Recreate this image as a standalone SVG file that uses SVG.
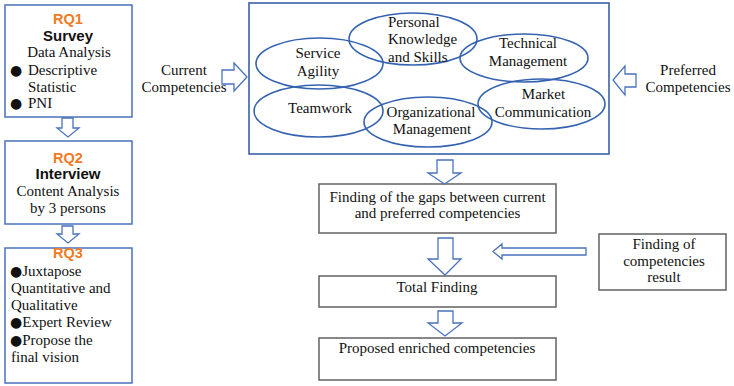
<svg xmlns="http://www.w3.org/2000/svg" width="734" height="386" viewBox="0 0 734 386">
<style>
.bg{fill:#fff}
.lbox{fill:#fff;stroke:#4A72BC;stroke-width:1.5}
.gbox{fill:#fff;stroke:#6b6b6b;stroke-width:1.6}
.main{fill:#fff;stroke:#3A5FA8;stroke-width:1.6}
.ell{fill:none;stroke:#3563B0;stroke-width:1.6}
.arr{fill:#fff;stroke:#4A72BC;stroke-width:1.3;stroke-linejoin:miter}
.t{font-family:"Liberation Serif","Times New Roman",serif;font-size:15px;fill:#111}
.c{text-anchor:middle}
.b{font-family:"DejaVu Sans",sans-serif;font-size:14px}
.rq{font-family:"Liberation Sans",Arial,sans-serif;font-size:14.5px;font-weight:bold;fill:#F07B22;text-anchor:middle}
.hd{font-family:"Liberation Sans",Arial,sans-serif;font-size:15px;font-weight:bold;fill:#111;text-anchor:middle}
</style>
<rect class="bg" x="0" y="0" width="734" height="386"/>

<g id="rq1">
<rect class="lbox" x="5" y="5" width="127" height="112"/>
<text class="rq" x="68" y="24">RQ1</text>
<text class="hd" x="68" y="41">Survey</text>
<text class="t c" x="69" y="57">Data Analysis</text>
<text class="t b" x="10" y="75">●</text>
<text class="t" x="28" y="75">Descriptive</text>
<text class="t" x="28" y="92">Statistic</text>
<text class="t b" x="10" y="108">●</text>
<text class="t" x="28" y="108">PNI</text>
</g>

<g id="rq2">
<rect class="lbox" x="5" y="141" width="127" height="83"/>
<text class="rq" x="68" y="163">RQ2</text>
<text class="hd" x="68" y="179">Interview</text>
<text class="t c" x="68" y="196">Content Analysis</text>
<text class="t c" x="68" y="213">by 3 persons</text>
</g>

<g id="rq3">
<rect class="lbox" x="5" y="248" width="127" height="135"/>
<text class="rq" x="68" y="258">RQ3</text>
<text class="t" x="10" y="276"><tspan class="b">●</tspan>Juxtapose</text>
<text class="t" x="11" y="293">Quantitative and</text>
<text class="t" x="11" y="310">Qualitative</text>
<text class="t" x="10" y="327"><tspan class="b">●</tspan>Expert Review</text>
<text class="t" x="10" y="345"><tspan class="b">●</tspan>Propose the</text>
<text class="t" x="11" y="362">final vision</text>
</g>

<g id="current-label">
<text class="t c" x="184" y="75">Current</text>
<text class="t c" x="184" y="92">Competencies</text>
</g>

<g id="preferred-label">
<text class="t c" x="688" y="75">Preferred</text>
<text class="t c" x="688" y="92">Competencies</text>
</g>

<g id="competencies">
<rect class="main" x="249" y="3" width="360" height="151"/>
<g id="service-agility">
<ellipse class="ell" cx="319.5" cy="63.5" rx="63.5" ry="25.5"/>
<text class="t c" x="318" y="58">Service</text>
<text class="t c" x="318" y="76">Agility</text>
</g>
<g id="personal-knowledge">
<ellipse class="ell" cx="413" cy="39" rx="64" ry="26"/>
<text class="t" x="388" y="27">Personal</text>
<text class="t" x="388" y="44">Knowledge</text>
<text class="t" x="388" y="62">and Skills</text>
</g>
<g id="technical-management">
<ellipse class="ell" cx="524" cy="58" rx="64" ry="24"/>
<text class="t c" x="528" y="48">Technical</text>
<text class="t c" x="528" y="66">Management</text>
</g>
<g id="teamwork">
<ellipse class="ell" cx="318.5" cy="111" rx="64.5" ry="26"/>
<text class="t c" x="320" y="113">Teamwork</text>
</g>
<g id="organizational-management">
<ellipse class="ell" cx="428" cy="122" rx="64" ry="25"/>
<text class="t c" x="431" y="117">Organizational</text>
<text class="t c" x="432" y="134">Management</text>
</g>
<g id="market-communication">
<ellipse class="ell" cx="541.5" cy="104" rx="63.5" ry="25"/>
<text class="t c" x="543.5" y="99">Market</text>
<text class="t c" x="543" y="117">Communication</text>
</g>
</g>

<g id="gaps">
<rect class="gbox" x="319" y="184" width="237" height="49"/>
<text class="t c" x="437.5" y="202">Finding of the gaps between current</text>
<text class="t c" x="437.5" y="218">and preferred competencies</text>
</g>

<g id="competencies-result">
<rect class="gbox" x="599" y="234" width="127" height="56"/>
<text class="t c" x="664" y="249">Finding of</text>
<text class="t c" x="664" y="266">competencies</text>
<text class="t c" x="664" y="282">result</text>
</g>

<g id="total-finding">
<rect class="gbox" x="319" y="276" width="237" height="31"/>
<text class="t c" x="437" y="292">Total Finding</text>
</g>

<g id="proposed">
<rect class="gbox" x="319" y="338" width="237" height="42"/>
<text class="t c" x="437" y="353">Proposed enriched competencies</text>
</g>

<g id="connectors">
<polygon class="arr" points="62,118 73,118 73,128 79,128 68,137 57,128 62,128"/>
<polygon class="arr" points="62,226 73,226 73,234 79,234 68,243 57,234 62,234"/>
<polygon class="arr" points="222,70 234,70 234,63 247,77 234,91 234,84 222,84"/>
<polygon class="arr" points="636,74 625,74 625,66 613,80 625,95 625,87 636,87"/>
<polygon class="arr" points="437,160 453,160 453,173 461,173 444.5,184 428,173 437,173"/>
<polygon class="arr" points="438,238 453,238 453,259 461,259 445,275 428,259 438,259"/>
<polygon class="arr" points="438,311 453,311 453,323 462,323 445,336 428,323 438,323"/>
<polygon class="arr" points="586,248 502,248 502,244 493,251.5 502,259 502,255 586,255"/>
</g>
</svg>
